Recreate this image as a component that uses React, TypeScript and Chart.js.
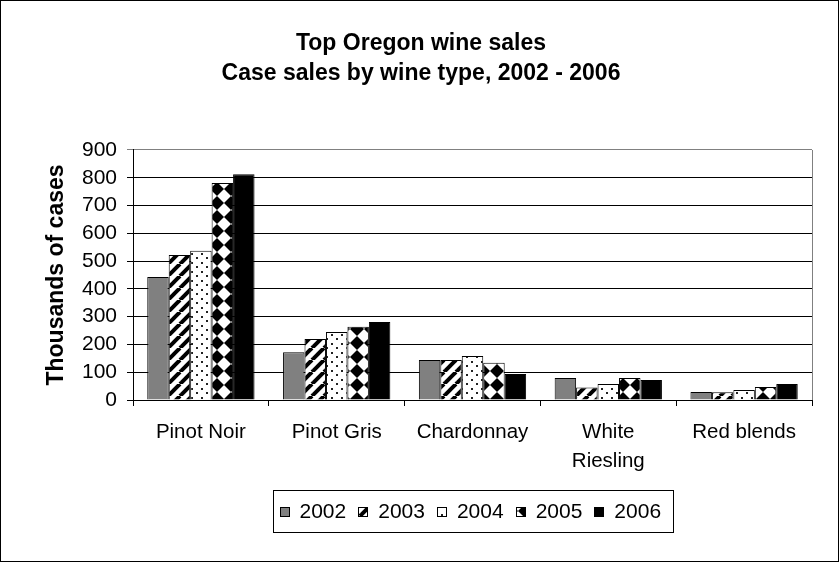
import React, { useEffect, useRef } from 'react';
import { Chart, registerables } from 'chart.js';

Chart.register(...registerables);

const titleLines = ['Top Oregon wine sales', 'Case sales by wine type, 2002 - 2006'];
const yAxisTitle = 'Thousands of cases';
const categories: (string | string[])[] = ['Pinot Noir', 'Pinot Gris', 'Chardonnay', ['White', 'Riesling'], 'Red blends'];
const seriesNames = ['2002', '2003', '2004', '2005', '2006'];
const sales2002 = [443, 172, 144, 79, 29];
const sales2003 = [522, 220, 144, 45, 28];
const sales2004 = [537, 245, 158, 58, 36];
const sales2005 = [781, 264, 134, 79, 47];
const sales2006 = [813, 281, 94, 72, 58];
const yMin = 0;
const yMax = 900;
const yStep = 100;

const FONT = '"Liberation Sans", Arial, Helvetica, sans-serif';

function makeFill(kind: string): string | CanvasPattern {
  if (kind === 'gray') return '#808080';
  if (kind === 'black') return '#000000';
  const c = document.createElement('canvas');
  const ctx = c.getContext('2d') as CanvasRenderingContext2D;
  if (kind === 'stripes') {
    const s = 12;
    c.width = s; c.height = s;
    ctx.fillStyle = '#fff';
    ctx.fillRect(0, 0, s, s);
    ctx.strokeStyle = '#000';
    ctx.lineWidth = 4;
    for (let k = -1; k <= 1; k++) {
      ctx.beginPath();
      ctx.moveTo(k * s, s);
      ctx.lineTo(k * s + s, 0);
      ctx.stroke();
    }
  } else if (kind === 'dots') {
    c.width = 10; c.height = 9;
    ctx.fillStyle = '#fff';
    ctx.fillRect(0, 0, 10, 9);
    ctx.fillStyle = '#222';
    ctx.fillRect(1, 1, 2, 2);
    ctx.fillRect(6, 5, 2, 2);
  } else if (kind === 'diamonds') {
    const s = 14;
    c.width = s; c.height = s;
    ctx.fillStyle = '#fff';
    ctx.fillRect(0, 0, s, s);
    ctx.fillStyle = '#000';
    ctx.beginPath();
    ctx.moveTo(s / 2, 0);
    ctx.lineTo(s, s / 2);
    ctx.lineTo(s / 2, s);
    ctx.lineTo(0, s / 2);
    ctx.closePath();
    ctx.fill();
  }
  const p = ctx.createPattern(c, 'repeat');
  return p || '#fff';
}

const fillKinds = ['gray', 'stripes', 'dots', 'diamonds', 'black'];

export default function App() {
  const ref = useRef<HTMLCanvasElement | null>(null);

  useEffect(() => {
    document.body.style.margin = '0';
    const canvas = ref.current;
    if (!canvas) return;
    const fills = fillKinds.map(makeFill);
    const values = [sales2002, sales2003, sales2004, sales2005, sales2006];

    const framePlugin = {
      id: 'frameAndLegend',
      beforeDatasetsDraw(chart: any) {
        const { ctx, chartArea } = chart;
        ctx.save();
        ctx.strokeStyle = '#808080';
        ctx.lineWidth = 1;
        ctx.beginPath();
        const x = Math.round(chartArea.right) + 0.5;
        ctx.moveTo(x, chartArea.top);
        ctx.lineTo(x, chartArea.bottom);
        ctx.stroke();
        ctx.restore();
      },
      afterDraw(chart: any) {
        const { ctx, chartArea, width, height } = chart;
        ctx.save();
        // outer frame
        ctx.strokeStyle = '#000';
        ctx.lineWidth = 1;
        ctx.strokeRect(0.5, 0.5, width - 1, height - 1);
        // legend
        ctx.font = `21px ${FONT}`;
        const padL = 6, padR = 12, sq = 9, gapSq = 11, gapItem = 12;
        const textWidths = chart.data.datasets.map((d: any) => ctx.measureText(d.label).width);
        let total = padL + padR;
        textWidths.forEach((w: number, i: number) => {
          total += sq + gapSq + w + (i < textWidths.length - 1 ? gapItem : 0);
        });
        const cx = (chartArea.left + chartArea.right) / 2;
        const cy = 511;
        const boxH = 42;
        const left = Math.round(cx - total / 2) + 0.5;
        const top = Math.round(cy - boxH / 2) + 0.5;
        ctx.strokeStyle = '#000';
        ctx.strokeRect(left, top, Math.round(total), boxH);
        let x = left + padL;
        ctx.textBaseline = 'middle';
        ctx.textAlign = 'left';
        chart.data.datasets.forEach((d: any, i: number) => {
          const sy = Math.round(cy - sq / 2) + 0.5;
          ctx.fillStyle = d.backgroundColor;
          ctx.fillRect(Math.round(x) + 0.5, sy, sq, sq);
          ctx.strokeStyle = '#000';
          ctx.strokeRect(Math.round(x) + 0.5, sy, sq, sq);
          x += sq + gapSq;
          ctx.fillStyle = '#000';
          ctx.fillText(d.label, x, cy + 1);
          x += textWidths[i] + gapItem;
        });
        ctx.restore();
      },
    };

    const chart = new Chart(canvas, {
      type: 'bar',
      data: {
        labels: categories as any,
        datasets: seriesNames.map((name, i) => ({
          label: name,
          data: values[i],
          backgroundColor: fills[i] as any,
          borderColor: '#000',
          borderWidth: 1,
          categoryPercentage: 0.79,
          barPercentage: 1,
        })),
      },
      options: {
        animation: false,
        responsive: false,
        devicePixelRatio: 1,
        layout: { padding: { left: 30, right: 27, top: 0, bottom: 88 } },
        plugins: {
          legend: { display: false },
          tooltip: { enabled: false },
          title: {
            display: true,
            text: titleLines,
            color: '#000',
            font: { family: FONT, size: 23, weight: 'bold', lineHeight: 1.304 },
            padding: { top: 28.5, bottom: 61.5 },
          },
        },
        scales: {
          x: {
            grid: { offset: true, drawOnChartArea: false, drawTicks: true, tickLength: 6, color: '#000', lineWidth: 1 },
            border: { display: true, color: '#000', width: 1 },
            ticks: {
              color: '#000',
              font: { family: FONT, size: 20.5, lineHeight: 1.4 },
              padding: 12,
              maxRotation: 0,
              autoSkip: false,
            },
            afterFit: (s: any) => { s.height = 74; },
          },
          y: {
            min: yMin,
            max: yMax,
            ticks: {
              stepSize: yStep,
              color: '#000',
              font: { family: FONT, size: 21, lineHeight: 1 },
              padding: 10,
              autoSkip: false,
            },
            grid: {
              color: (c: any) => (c.tick && c.tick.value === yMax ? '#808080' : '#000'),
              tickLength: 6,
              drawTicks: true,
              lineWidth: 1,
            },
            border: { display: true, color: '#000', width: 1 },
            title: {
              display: true,
              text: yAxisTitle,
              color: '#000',
              font: { family: FONT, size: 23, weight: 'bold', lineHeight: 1.2 },
              padding: { top: 12.5, bottom: 0 },
            },
            afterFit: (s: any) => { s.width = 103; },
          },
        },
      },
      plugins: [framePlugin],
    } as any);

    return () => chart.destroy();
  }, []);

  return (
    <div style={{ width: 839, height: 562, background: '#fff' }}>
      <canvas ref={ref} width={839} height={562} style={{ display: 'block' }} />
    </div>
  );
}
